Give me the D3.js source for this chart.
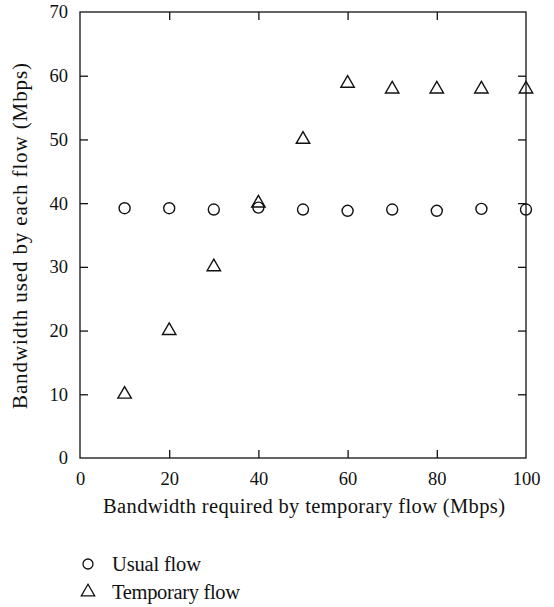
<!DOCTYPE html>
<html><head><meta charset="utf-8">
<script src="https://cdn.jsdelivr.net/npm/d3@7"></script>
<style>body{margin:0;background:#fff}svg{display:block}text{font-family:"Liberation Serif","DejaVu Serif",serif;fill:#111}</style>
</head><body>
<svg id="c" width="554" height="607"></svg>
<script>
const xValues = [10,20,30,40,50,60,70,80,90,100];
const usualFlow = [39.2,39.2,39.0,39.3,39.0,38.8,39.0,38.8,39.1,39.0];
const temporaryFlow = [10,20,30,40,50,58.8,57.9,57.9,57.9,57.9];
const xTicks = [0,20,40,60,80,100];
const yTicks = [0,10,20,30,40,50,60,70];
const seriesNames = ["Usual flow","Temporary flow"];

const svg = d3.select("#c");
const L=80,R=526,T=12,B=458;
const x = d3.scaleLinear().domain([0,100]).range([L,R]);
const y = d3.scaleLinear().domain([0,70]).range([B,T]);
const col="#111";

svg.append("rect").attr("x",L).attr("y",T).attr("width",R-L).attr("height",B-T)
  .attr("fill","none").attr("stroke",col).attr("stroke-width",1.3);

const fs = 18.5;
function style(g){g.select(".domain").remove();g.selectAll("line").attr("stroke",col).attr("stroke-width",1.3);g.selectAll("text").attr("font-size",fs).attr("font-family","Liberation Serif, serif").attr("fill","#111");}
svg.append("g").attr("transform",`translate(0,${B})`).call(d3.axisBottom(x).tickValues(xTicks).tickSize(-8).tickPadding(14).tickFormat(d3.format("d"))).call(style)
  .selectAll(".tick").filter(d=>d===0||d===100).select("line").remove();
svg.append("g").attr("transform",`translate(0,${T})`).call(d3.axisTop(x).tickValues(xTicks.filter(d=>d>0&&d<100)).tickSize(-8).tickFormat("")).call(style);
svg.append("g").attr("transform",`translate(${L},0)`).call(d3.axisLeft(y).tickValues(yTicks).tickSize(-8).tickPadding(12).tickFormat(d3.format("d"))).call(style)
  .selectAll(".tick").filter(d=>d===0||d===70).select("line").remove();
svg.append("g").attr("transform",`translate(${R},0)`).call(d3.axisRight(y).tickValues(yTicks.filter(d=>d>0&&d<70)).tickSize(-8).tickFormat("")).call(style);

const tri = d3.symbol().type(d3.symbolTriangle).size(78);
svg.append("g").selectAll("circle").data(xValues).join("circle")
  .attr("cx",(d)=>x(d)).attr("cy",(d,i)=>y(usualFlow[i])).attr("r",5.5)
  .attr("fill","none").attr("stroke",col).attr("stroke-width",1.4);
svg.append("g").selectAll("path").data(xValues).join("path")
  .attr("d",tri).attr("transform",(d,i)=>`translate(${x(d)},${y(temporaryFlow[i])})`)
  .attr("fill","none").attr("stroke",col).attr("stroke-width",1.4);

svg.append("text").attr("x",(L+R)/2+1).attr("y",513).attr("text-anchor","middle").attr("font-size",20.5)
  .attr("textLength",402).attr("lengthAdjust","spacing")
  .text("Bandwidth required by temporary flow (Mbps)");
svg.append("text").attr("transform",`translate(27,236) rotate(-90)`).attr("text-anchor","middle").attr("font-size",21)
  .attr("textLength",346).attr("lengthAdjust","spacing")
  .text("Bandwidth used by each flow (Mbps)");

const lg = svg.append("g");
lg.append("circle").attr("cx",88).attr("cy",564).attr("r",5).attr("fill","none").attr("stroke",col).attr("stroke-width",1.3);
lg.append("path").attr("d",tri).attr("transform","translate(88,592)").attr("fill","none").attr("stroke",col).attr("stroke-width",1.3);
lg.selectAll("text").data(seriesNames).join("text").attr("x",112).attr("y",(d,i)=>571+i*28).attr("font-size",20.5)
  .attr("textLength",(d,i)=>i===0?89:128).attr("lengthAdjust","spacing").text(d=>d);
</script>
</body></html>
